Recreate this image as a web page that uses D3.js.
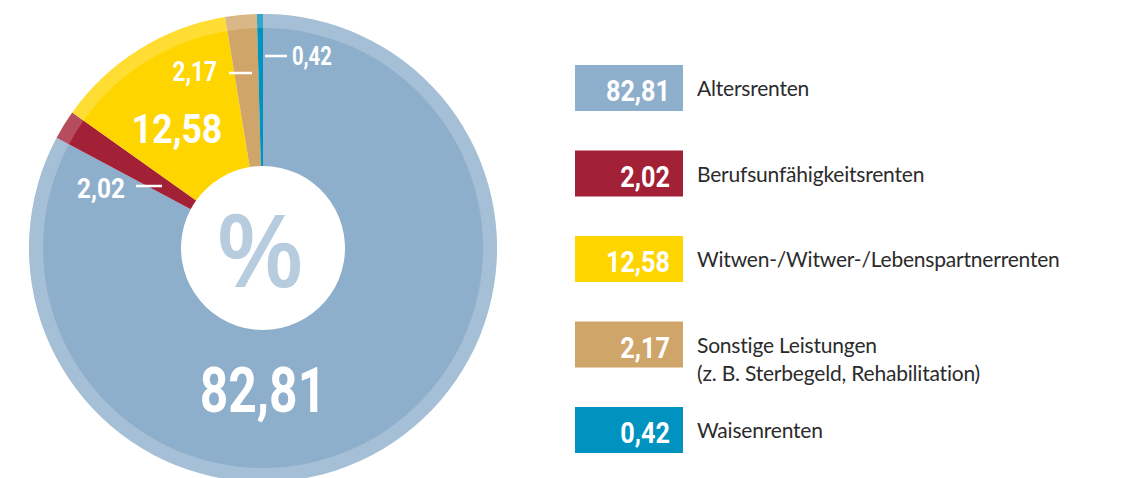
<!DOCTYPE html>
<html>
<head>
<meta charset="utf-8">
<script src="https://cdn.jsdelivr.net/npm/d3@7"></script>
<style>
  body { margin: 0; background: #fff; }
  .num { font-family: Roboto, "Noto Sans", sans-serif; font-weight: bold; fill: #fff; }
  .lbl { font-family: Lato, "Open Sans", sans-serif; font-size: 21px; letter-spacing: -0.2px; fill: #2b2b2b; }
</style>
</head>
<body>
<div id="chart"></div>
<script>
// Data
const categories = ["Altersrenten", "Berufsunfähigkeitsrenten", "Witwen-/Witwer-/Lebenspartnerrenten", "Sonstige Leistungen", "Waisenrenten"];
const subLabels = ["", "", "", "(z. B. Sterbegeld, Rehabilitation)", ""];
const values = [82.81, 2.02, 12.58, 2.17, 0.42];
const colors = ["#8eafcc", "#a32136", "#ffd500", "#d0a56a", "#0093bf"];

const data = categories.map((c, i) => ({ name: c, sub: subLabels[i], value: values[i], color: colors[i] }));
const fmt = v => d3.format(".2f")(v).replace(".", ",");

const width = 1122, height = 478;
const cx = 263, cy = 248;
const outerR = 234, bandR = 220, innerR = 82;

const svg = d3.select("#chart")
    .append("svg")
    .attr("width", width)
    .attr("height", height);

// condensed number text (squeezed horizontally)
function condText(parent, x, y, str, size, sx, anchor) {
    return parent.append("g")
        .attr("transform", `translate(${x},${y}) scale(${sx},1)`)
        .append("text")
        .attr("class", "num")
        .attr("text-anchor", anchor)
        .style("font-size", size + "px")
        .text(str);
}

const g = svg.append("g").attr("transform", `translate(${cx},${cy})`);

const pie = d3.pie().value(d => d.value).sort(null);
const arcs = pie(data);
const arc = d3.arc().innerRadius(innerR).outerRadius(outerR);
const bandArc = d3.arc().innerRadius(bandR).outerRadius(outerR);

// slices
g.selectAll(".slice")
    .data(arcs)
    .enter()
    .append("path")
    .attr("class", "slice")
    .attr("d", arc)
    .attr("fill", d => d.data.color);

// lighter outer band
g.selectAll(".band")
    .data(arcs)
    .enter()
    .append("path")
    .attr("class", "band")
    .attr("d", bandArc)
    .attr("fill", "#fff")
    .attr("fill-opacity", 0.2);

// percent sign in the hole
g.append("text")
    .attr("x", -3)
    .attr("y", 39)
    .attr("text-anchor", "middle")
    .style("font-family", "'Open Sans', sans-serif")
    .style("font-weight", 600)
    .style("font-size", "102px")
    .style("fill", "#b8cce0")
    .text("%");

// big labels
condText(g, 0, 164, fmt(values[0]), 63, 0.79, "middle");
condText(g, -86, -105, fmt(values[2]), 40, 0.89, "middle");

// small labels with leader lines (offsets relative to pie centre)
const smallLabels = [
    { i: 1, tx: -138, ty: -50, size: 28, sx: 0.87, anchor: "end", x1: -127, x2: -101, ly: -62 },
    { i: 3, tx: -46, ty: -167, size: 27, sx: 0.84, anchor: "end", x1: -34, x2: -11, ly: -175 },
    { i: 4, tx: 29, ty: -183, size: 25, sx: 0.81, anchor: "start", x1: 2, x2: 24, ly: -192 }
];

smallLabels.forEach(s => {
    g.append("line")
        .attr("x1", s.x1).attr("x2", s.x2)
        .attr("y1", s.ly).attr("y2", s.ly)
        .attr("stroke", "#fff")
        .attr("stroke-width", 2.5);
    condText(g, s.tx, s.ty, fmt(values[s.i]), s.size, s.sx, s.anchor);
});

// legend
const legendY = d3.scalePoint().domain(categories).range([65, 407]);
const boxW = 108, boxH = 46, boxX = 575;

const legend = svg.selectAll(".legend")
    .data(data)
    .enter()
    .append("g")
    .attr("class", "legend")
    .attr("transform", d => `translate(${boxX},${legendY(d.name)})`);

legend.append("rect")
    .attr("width", boxW)
    .attr("height", boxH)
    .attr("fill", d => d.color);

legend.each(function(d) {
    condText(d3.select(this), boxW - 13, boxH / 2 + 13, fmt(d.value), 29, 0.87, "end");
});

legend.append("text")
    .attr("class", "lbl")
    .attr("x", boxW + 14)
    .attr("y", boxH / 2 + 8)
    .text(d => d.name);

legend.filter(d => d.sub)
    .append("text")
    .attr("class", "lbl")
    .attr("x", boxW + 14)
    .attr("y", boxH / 2 + 36)
    .text(d => d.sub);
</script>
</body>
</html>
